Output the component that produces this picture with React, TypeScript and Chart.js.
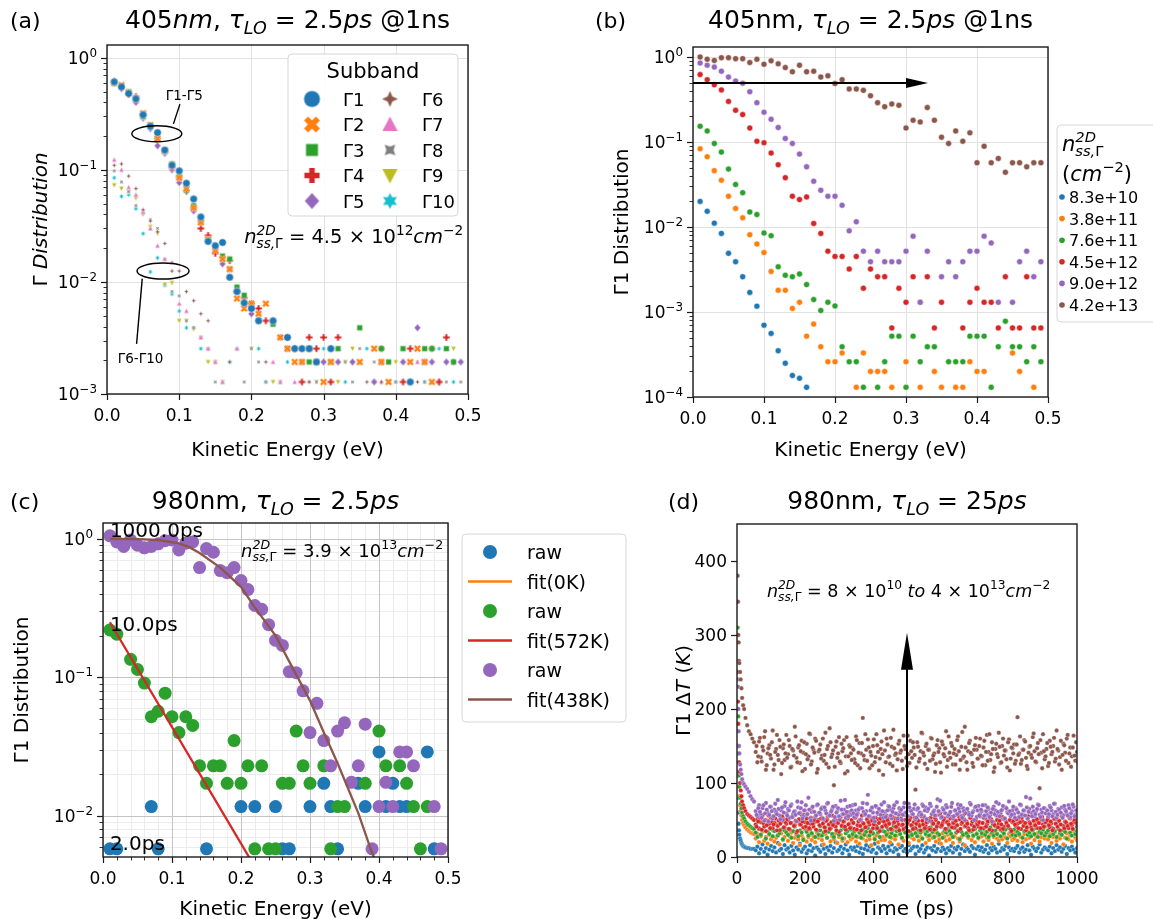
import React, { useEffect, useRef } from "react";
import { Chart, registerables } from "chart.js";
Chart.register(...registerables);

const PAGE_W = 1153;
const PAGE_H = 919;
const FF = '"DejaVu Sans", "Liberation Sans", sans-serif';
const TICK = 17;

const TAB = {
  blue: "#1f77b4", orange: "#ff7f0e", green: "#2ca02c", red: "#d62728", purple: "#9467bd",
  brown: "#8c564b", pink: "#e377c2", gray: "#7f7f7f", olive: "#bcbd22", cyan: "#17becf",
};

// ---------- shared energy grid (eV) ----------
const ENERGY = [0.01, 0.02, 0.03, 0.04, 0.05, 0.06, 0.07, 0.08, 0.09, 0.10,
  0.11, 0.12, 0.13, 0.14, 0.15, 0.16, 0.17, 0.18, 0.19, 0.20,
  0.21, 0.22, 0.23, 0.24, 0.25, 0.26, 0.27, 0.28, 0.29, 0.30,
  0.31, 0.32, 0.33, 0.34, 0.35, 0.36, 0.37, 0.38, 0.39, 0.40,
  0.41, 0.42, 0.43, 0.44, 0.45, 0.46, 0.47, 0.48, 0.49];

// ---------- panel (a): subbands ----------
const SUBBAND_LABELS = ["Γ1", "Γ2", "Γ3", "Γ4", "Γ5", "Γ6", "Γ7", "Γ8", "Γ9", "Γ10"];
const G1 = [0.61, 0.55, 0.48, 0.43, 0.31, 0.245, 0.215, 0.15, 0.11, 0.098,
  0.076, 0.055, 0.038, 0.023, 0.021, 0.0225, 0.011, 0.0082, 0.0065, 0.0058,
  0.0045, null, 0.0045, null, 0.0032, 0.00254, 0.00254, 0.00254, 0.00193, null,
  0.00254, null, null, null, null, null, null, null, null, null,
  null, 0.00128, null, null, null, null, null, null, null];
const G2 = [0.60, 0.57, 0.49, 0.43, 0.32, 0.25, 0.19, 0.15, 0.11, 0.085,
  0.068, 0.046, 0.034, 0.024, 0.019, 0.016, 0.013, 0.0071, 0.0058, 0.0064,
  0.0052, 0.0064, null, 0.0032, 0.00254, 0.00193, 0.00193, 0.00254, 0.00193, 0.00128,
  0.00193, null, null, null, 0.00193, null, 0.00254, 0.00193, 0.00128, null,
  null, 0.00193, 0.00254, 0.00193, 0.00128, null, null, null, null];
const G3 = [0.59, 0.56, 0.50, 0.44, 0.30, 0.25, 0.20, 0.146, 0.113, 0.088,
  0.066, 0.048, 0.035, 0.024, 0.021, 0.017, 0.016, 0.009, 0.0076, 0.0058,
  0.0045, null, 0.0042, null, 0.00254, null, null, 0.00193, null, null,
  0.00193, 0.00254, null, null, 0.0039, null, null, 0.00254, 0.00193, null,
  0.00254, null, null, 0.00254, 0.00254, null, 0.00254, 0.00193, null];
const G4 = [0.60, 0.54, 0.47, 0.45, 0.31, 0.245, 0.19, 0.145, 0.105, 0.086,
  0.065, 0.046, 0.030, 0.026, 0.018, 0.0165, 0.0155, 0.0082, 0.0072, 0.0064,
  0.0058, 0.0045, null, null, 0.0032, 0.00254, 0.00128, 0.0032, 0.00254, 0.0032,
  0.00128, 0.0032, null, null, null, null, null, 0.00254, null, null,
  0.00128, 0.00254, null, null, 0.00254, 0.00128, 0.0032, null, null];
const G5 = [0.62, 0.53, 0.47, 0.40, 0.29, 0.233, 0.164, 0.14, 0.10, 0.077,
  0.064, 0.043, 0.034, 0.024, 0.019, 0.0145, 0.013, 0.0082, 0.0065, 0.0052,
  0.0045, null, 0.0045, 0.0032, 0.00254, 0.00254, 0.00193, 0.00254, null, 0.00193,
  0.00254, 0.00193, null, 0.00193, null, null, 0.00128, 0.00193, null, null,
  0.00193, null, 0.0039, 0.00193, 0.00193, 0.00128, 0.00193, 0.00193, 0.00193];
const G6 = [0.11, 0.113, 0.088, 0.068, 0.044, 0.035, 0.028, 0.022, 0.0125, 0.0125,
  0.0082, 0.0068, 0.0052, 0.0045, null, null, 0.00193, null, null, null,
  null, 0.00193, null, null, null, 0.00254, null, 0.00128, null, 0.00193,
  null, null, null, null, null, 0.00128, null, 0.00128, null, null,
  null, null, 0.00128, null, null, null, null, null, null];
const G7 = [0.123, 0.10, 0.07, 0.06, 0.042, 0.030, 0.021, 0.016, 0.015, 0.0064,
  0.0055, null, 0.0032, 0.00254, 0.00193, 0.00128, null, 0.00254, null, null,
  null, null, 0.00193, 0.00128, null, 0.00128, null, null, null, null,
  null, 0.00254, null, null, 0.00193, null, null, 0.00128, null, null,
  null, null, 0.00193, null, null, null, null, null, null];
const G8 = [0.098, 0.078, 0.064, 0.048, 0.042, 0.036, 0.030, 0.016, 0.0082, 0.0075,
  0.0045, 0.0039, 0.0032, 0.00254, 0.00128, 0.00128, null, null, 0.00128, 0.00254,
  0.00193, 0.00128, null, 0.00128, null, 0.00254, null, 0.00128, 0.00128, null,
  0.00193, 0.00254, 0.00193, 0.00128, 0.00254, null, 0.00193, null, 0.00193, 0.00128,
  0.00254, null, 0.00193, 0.00128, 0.00254, 0.00128, 0.00128, null, 0.00128];
const G9 = [0.073, 0.068, 0.064, 0.056, 0.040, 0.031, 0.027, 0.0095, 0.0098, 0.0045,
  0.0045, 0.0038, 0.0032, 0.00193, 0.00193, 0.00128, null, null, null, 0.00254,
  null, null, 0.00128, 0.00128, null, null, 0.00193, null, 0.00128, null,
  null, 0.00128, 0.00193, 0.00254, null, null, 0.00128, null, 0.00193, 0.00193,
  0.00128, null, null, 0.00193, null, null, null, 0.00254, null];
const G10 = [0.085, 0.058, 0.060, 0.045, 0.027, 0.0123, 0.0164, 0.0093, 0.0078, 0.0055,
  0.0039, 0.0039, 0.00254, 0.00254, 0.00193, 0.00128, 0.00193, 0.00254, null, null,
  0.00254, 0.00128, null, null, 0.00193, null, 0.00128, null, null, 0.00254,
  0.00128, null, 0.00128, null, null, 0.00254, null, null, null, 0.00128,
  null, 0.00193, null, 0.00128, null, 0.00254, null, 0.00128, null];
const SUBBAND_SERIES = [G1, G2, G3, G4, G5, G6, G7, G8, G9, G10];
const SUBBAND_COLORS = [TAB.blue, TAB.orange, TAB.green, TAB.red, TAB.purple, TAB.brown, TAB.pink, TAB.gray, TAB.olive, TAB.cyan];
const SUBBAND_SHAPES = ["circle", "X", "square", "P", "diamond", "star4", "triUp", "star4x", "triDown", "star6"];

// ---------- panel (b): densities ----------
const DENSITY_LABELS = ["8.3e+10", "3.8e+11", "7.6e+11", "4.5e+12", "9.0e+12", "4.2e+13"];
const B_BLUE = [0.02, 0.0153, 0.0111, 0.0084, 0.0049, 0.0039, 0.0026, 0.0017, 0.00117, 0.0007,
  0.00056, 0.00035, 0.00025, 0.000179, 0.000166, 0.00013];
const B_ORANGE = [0.083, 0.067, 0.046, 0.0355, 0.023, 0.0165, 0.0128, 0.0081, 0.0063, 0.005,
  0.003, 0.0018, 0.0018, 0.0011, 0.0013, 0.00052, 0.00072, 0.00039, 0.00026, 0.00026,
  0.00033, null, 0.00013, 0.00033, 0.0002, 0.0002, 0.0002, 0.00013, null, 0.00026,
  null, 0.00013, null, 0.0002, 0.00013, null, 0.00013, 0.00013, 0.00026, 0.0002,
  0.0002, null, null, null, 0.00033, 0.0002, null, 0.00013, null];
const B_GREEN = [0.153, 0.135, 0.096, 0.076, 0.048, 0.0316, 0.0253, 0.015, 0.014, 0.0085,
  0.0079, 0.0034, 0.0027, 0.0026, 0.0028, 0.0021, 0.0014, 0.00104, 0.0013, 0.00118,
  0.00039, 0.00026, 0.00026, 0.00013, null, 0.00013, 0.00026, 0.00052, 0.00052, 0.00013,
  0.00052, 0.00026, 0.00039, 0.00039, null, 0.00026, 0.00026, 0.00026, 0.00052, 0.00052,
  0.00052, 0.00013, 0.00039, 0.00078, 0.00039, 0.00039, 0.00026, 0.00039, 0.00026];
const B_RED = [0.62, 0.54, 0.47, 0.41, 0.30, 0.236, 0.21, 0.146, 0.102, 0.098,
  0.074, 0.054, 0.038, 0.023, 0.021, 0.0226, 0.011, 0.0084, 0.0052, 0.0045,
  0.0045, 0.0032, 0.0045, 0.0019, 0.0032, 0.0026, 0.0026, 0.00065, 0.0019, 0.0013,
  0.0026, 0.0013, 0.0026, 0.00065, 0.0013, null, null, 0.00065, 0.0013, 0.0019,
  0.0013, 0.0013, 0.00065, 0.0026, 0.00065, 0.00065, 0.0026, 0.00065, 0.00065];
const B_PURPLE = [0.85, 0.80, 0.76, 0.68, 0.58, 0.52, 0.49, 0.39, 0.29, 0.224,
  0.185, 0.148, 0.11, 0.096, 0.072, 0.051, 0.0345, 0.027, 0.023, 0.023,
  0.018, 0.009, 0.0115, 0.0052, 0.0039, 0.0052, 0.0039, 0.0039, 0.0039, 0.0052,
  0.0078, 0.0013, 0.0052, null, 0.0026, 0.0039, 0.0026, 0.0039, 0.0052, 0.0052,
  0.0078, 0.0065, 0.0013, null, 0.0013, 0.0039, 0.0052, 0.0026, 0.0039];
const B_BROWN = [1.0, 0.94, 0.91, 0.98, 0.98, 0.955, 0.955, 0.86, 0.94, 0.82,
  0.9, 0.83, 0.75, 0.67, 0.8, 0.67, 0.68, 0.58, 0.6, 0.486,
  0.54, 0.42, 0.42, 0.405, 0.35, 0.29, 0.26, 0.28, 0.27, 0.146,
  0.18, 0.172, 0.254, 0.18, 0.114, 0.096, 0.135, 0.102, 0.128, 0.057,
  0.089, 0.057, 0.064, 0.044, 0.057, 0.057, 0.051, 0.057, 0.057];
const DENSITY_SERIES = [B_BLUE, B_ORANGE, B_GREEN, B_RED, B_PURPLE, B_BROWN];
const SIX_COLORS = [TAB.blue, TAB.orange, TAB.green, TAB.red, TAB.purple, TAB.brown];

// ---------- panel (c): 980nm raw + fits ----------
const C_RAW_2PS = [0.0058, 0.0058, null, null, null, null, 0.0117, 0.0058, null, null,
  null, null, null, null, 0.0058, null, null, null, null, 0.0117,
  null, 0.0117, null, null, 0.0117, 0.0058, 0.0058, null, null, 0.0117,
  null, 0.0172, 0.0117, 0.0058, null, null, 0.0172, 0.0117, null, 0.029,
  0.0117, 0.0172, 0.0117, 0.0117, null, null, 0.029, 0.0058, null];
const C_RAW_10PS = [0.22, 0.205, null, 0.135, 0.114, 0.091, 0.052, 0.057, 0.077, 0.052,
  0.040, 0.052, 0.045, 0.023, 0.0172, 0.023, 0.023, 0.0172, 0.035, 0.0172,
  0.023, 0.0058, 0.023, 0.0058, 0.0058, 0.0172, 0.0172, 0.041, 0.023, 0.0172,
  null, 0.023, 0.0058, 0.0117, 0.0117, null, null, 0.0172, null, 0.041,
  0.023, null, 0.023, 0.0172, 0.0117, 0.0058, 0.0117, null, null];
const C_RAW_1000PS = [1.05, 0.95, 0.88, 0.98, 0.90, 0.86, 0.88, 0.92, 0.97, 0.98,
  0.83, 0.93, 0.95, 0.62, 0.85, 0.80, 0.59, 0.57, 0.62, 0.50,
  0.43, 0.33, 0.31, 0.24, 0.185, 0.17, 0.11, 0.108, 0.08, 0.04,
  0.065, 0.035, 0.023, 0.041, 0.047, 0.0175, 0.023, 0.046, 0.0058, 0.0117,
  0.0175, 0.0117, 0.029, 0.029, 0.023, null, null, 0.0117, 0.0058];
const FIT_572K_E = [0.01, 0.22];
const FIT_572K_V = [0.25, 0.0043];
const FIT_438K_E = [0.01, 0.05, 0.08, 0.11, 0.125, 0.14, 0.17, 0.20, 0.22, 0.25, 0.27, 0.30, 0.32, 0.34, 0.37, 0.39, 0.40];
const FIT_438K_V = [1.0, 0.995, 0.98, 0.925, 0.87, 0.79, 0.62, 0.45, 0.32, 0.2, 0.13, 0.068, 0.04, 0.024, 0.0105, 0.0054, 0.0042];
const FIT_0K_E: number[] = [];
const FIT_0K_V: number[] = [];
const C_TIME_LABELS = ["2.0ps", "10.0ps", "1000.0ps"];
const C_LEGEND = ["raw", "fit(0K)", "raw", "fit(572K)", "raw", "fit(438K)"];

// ---------- panel (d): temperature vs time ----------
const D_TIME_EARLY = [2, 3, 4, 5, 6, 7, 9, 11, 13, 15, 18, 21, 25, 30, 35, 40, 45, 50];
const D_TIME = [...D_TIME_EARLY, ...Array.from({ length: 190 }, (_, i) => 55 + 5 * i)];
const D_TIME_B = Array.from({ length: 190 }, (_, i) => 57.5 + 5 * i);
const D_BROWN = [380, 345, 300, 290, 265, 262, 250, 240, 228, 215, 205, 200, 188, 178, 170, 166, 160, 155,
  142, 128, 156, 135, 149, 162, 118, 140, 151, 133, 171, 125, 146, 138, 158, 112, 147, 131, 165,
  139, 150, 122, 144, 176, 134, 148, 127, 157, 141, 119, 153, 136, 166, 129, 145, 160, 114, 143,
  152, 137, 130, 168, 146, 121, 155, 139, 97, 149, 134, 162, 127, 143, 158, 136, 116, 151, 140,
  147, 132, 163, 124, 154, 140, 188, 131, 145, 159, 120, 137, 150, 128, 166, 142, 133, 156, 111,
  144, 160, 135, 126, 149, 172, 138, 117, 153, 141, 130, 164, 146, 123, 139, 157, 134, 148, 91,
  155, 129, 143, 167, 137, 150, 119, 145, 161, 132, 140, 126, 158, 147, 114, 152, 136, 170, 131,
  141, 154, 125, 146, 138, 163, 118, 149, 134, 176, 128, 143, 157, 139, 122, 151, 145, 133, 160,
  136, 148, 124, 165, 142, 131, 155, 115, 146, 139, 168, 127, 150, 137, 144, 121, 159, 133, 147,
  152, 130, 189, 140, 126, 145, 158, 134, 119, 149, 138, 162, 143, 128, 154, 93, 141, 166, 132,
  146, 123, 157, 139, 150, 129, 171, 144, 135, 118, 153, 141, 160, 127, 148, 136, 164, 130, 142];
const D_BROWN_B = [150, 136, 161, 129, 144, 170, 124, 147, 138, 155, 118, 142, 165, 131, 149, 127, 152, 140, 134,
  158, 121, 146, 137, 163, 128, 151, 143, 116, 155, 139, 132, 167, 125, 148, 141, 157, 119, 145,
  133, 160, 138, 126, 150, 174, 135, 144, 122, 156, 140, 129, 153, 147, 113, 162, 136, 149, 131,
  145, 127, 158, 141, 120, 154, 137, 166, 130, 148, 142, 124, 159, 135, 151, 117, 146, 139, 171,
  128, 152, 136, 161, 123, 147, 140, 132, 157, 144, 119, 150, 134, 164, 127, 143, 155, 138, 121,
  149, 133, 168, 141, 126, 153, 145, 130, 160, 137, 115, 151, 142, 128, 156, 139, 147, 122, 163,
  134, 150, 140, 125, 158, 143, 131, 169, 136, 148, 118, 154, 141, 127, 145, 161, 133, 150, 137,
  124, 157, 142, 130, 166, 139, 146, 121, 153, 135, 149, 128, 160, 144, 132, 155, 117, 148, 140,
  126, 152, 138, 163, 131, 145, 156, 123, 141, 150, 134, 167, 129, 147, 139, 158, 120, 143, 136,
  154, 127, 149, 142, 161, 133, 146, 125, 157, 138, 151, 130, 165, 140, 122, 148, 137, 155, 129];
const D_PURPLE = [240, 230, 200, 170, 150, 140, 125, 118, 112, 105, 100, 98, 95, 92, 88, 82, 78, 75,
  62, 55, 70, 58, 66, 49, 73, 60, 57, 68, 52, 64, 61, 77, 56, 63, 50, 69, 59,
  65, 53, 71, 58, 62, 48, 67, 60, 74, 55, 63, 57, 80, 52, 66, 61, 54, 70, 59,
  58, 67, 51, 63, 72, 56, 60, 65, 49, 69, 62, 55, 76, 58, 64, 53, 68, 61, 57,
  70, 54, 63, 59, 66, 51, 73, 57, 62, 84, 55, 65, 60, 48, 68, 58, 63, 71, 53,
  61, 56, 69, 64, 52, 66, 59, 74, 57, 62, 50, 67, 60, 55, 72, 63, 58, 65, 51,
  64, 57, 60, 71, 54, 67, 62, 49, 69, 58, 63, 56, 78, 61, 53, 66, 60, 70, 55,
  59, 68, 52, 63, 57, 71, 61, 55, 66, 50, 64, 60, 73, 56, 62, 67, 54, 69, 58,
  62, 53, 70, 57, 65, 60, 48, 68, 63, 56, 72, 59, 64, 51, 67, 61, 75, 55, 63,
  58, 66, 61, 54, 70, 57, 63, 81, 52, 65, 60, 68, 55, 62, 71, 57, 64, 50, 66,
  60, 55, 69, 63, 58, 72, 53, 65, 61, 67, 56, 64, 59, 70, 54, 62, 68, 57, 61];
const D_PURPLE_B = [57, 66, 61, 53, 70, 59, 64, 48, 68, 62, 55, 72, 58, 65, 51, 67, 60, 74, 56,
  63, 69, 54, 61, 57, 75, 59, 66, 52, 63, 70, 58, 64, 49, 68, 61, 56, 71, 60,
  65, 52, 67, 59, 73, 56, 62, 68, 54, 60, 66, 50, 64, 58, 77, 61, 55, 69, 63,
  59, 71, 57, 64, 50, 66, 61, 58, 72, 55, 63, 67, 53, 69, 60, 65, 57, 62, 74,
  54, 63, 68, 56, 61, 70, 59, 52, 66, 64, 57, 73, 60, 55, 67, 62, 58, 71, 53,
  66, 60, 57, 69, 63, 51, 65, 72, 58, 61, 56, 68, 62, 76, 54, 64, 59, 67, 57,
  61, 73, 55, 63, 58, 66, 70, 53, 62, 59, 65, 57, 71, 60, 50, 68, 63, 56, 64,
  70, 56, 62, 67, 54, 60, 65, 58, 74, 61, 55, 63, 69, 52, 66, 59, 62, 57, 68,
  53, 64, 60, 71, 57, 63, 56, 67, 61, 79, 55, 62, 58, 65, 70, 54, 60, 66, 59,
  63, 58, 67, 55, 72, 61, 57, 64, 60, 53, 69, 62, 56, 66, 59, 71, 55, 63, 60];
const D_RED = [250, 210, 180, 150, 128, 115, 100, 90, 82, 75, 70, 66, 62, 58, 56, 54, 52, 50,
  44, 51, 38, 47, 56, 41, 35, 49, 45, 53, 39, 46, 58, 42, 36, 48, 52, 40, 45,
  50, 37, 46, 55, 43, 33, 49, 44, 57, 40, 47, 52, 38, 45, 61, 41, 48, 36, 50,
  42, 53, 47, 35, 51, 44, 39, 56, 46, 41, 49, 34, 54, 43, 48, 37, 52, 45, 40,
  47, 38, 55, 43, 50, 36, 46, 59, 41, 48, 44, 53, 39, 47, 42, 51, 35, 49, 56,
  45, 41, 48, 54, 37, 46, 52, 40, 44, 58, 43, 38, 50, 46, 35, 53, 42, 47, 39,
  51, 44, 36, 49, 55, 42, 47, 39, 53, 45, 37, 50, 43, 57, 41, 46, 52, 38, 48,
  43, 54, 46, 40, 49, 35, 51, 45, 56, 42, 48, 39, 53, 44, 37, 50, 46, 41, 55,
  46, 39, 52, 44, 48, 57, 36, 47, 42, 50, 45, 38, 54, 41, 49, 43, 60, 37, 47,
  50, 42, 45, 53, 38, 48, 44, 36, 52, 47, 40, 55, 43, 49, 39, 46, 51, 44, 41,
  47, 53, 40, 46, 38, 51, 44, 49, 36, 55, 42, 48, 45, 39, 52, 43, 47, 50, 41];
const D_RED_B = [41, 48, 53, 37, 46, 50, 43, 56, 39, 47, 44, 52, 36, 49, 45, 55, 40, 47, 51,
  38, 46, 54, 42, 49, 35, 51, 44, 48, 57, 41, 46, 39, 53, 45, 50, 37, 48, 43,
  52, 45, 40, 49, 55, 38, 47, 43, 51, 36, 46, 54, 42, 48, 41, 58, 44, 39, 50,
  46, 53, 37, 48, 42, 56, 45, 40, 51, 47, 34, 49, 44, 53, 39, 46, 52, 41, 48,
  43, 50, 45, 38, 54, 47, 41, 49, 36, 52, 44, 57, 40, 46, 50, 43, 38, 53, 45,
  49, 42, 55, 44, 39, 47, 51, 37, 48, 45, 53, 41, 46, 59, 43, 50, 38, 47, 44,
  52, 40, 46, 49, 43, 55, 38, 47, 51, 42, 45, 36, 53, 48, 41, 50, 44, 47, 39,
  46, 54, 41, 48, 37, 51, 45, 43, 56, 40, 49, 44, 38, 52, 46, 42, 50, 35, 48,
  44, 51, 39, 47, 53, 42, 46, 40, 55, 45, 37, 49, 43, 51, 46, 39, 54, 41, 47,
  50, 43, 48, 36, 52, 45, 41, 49, 44, 57, 39, 47, 42, 53, 45, 38, 50, 46, 43];
const D_GREEN = [310, 250, 190, 140, 110, 95, 80, 72, 66, 60, 55, 52, 48, 45, 43, 41, 39, 38,
  33, 27, 39, 30, 36, 42, 25, 34, 31, 38, 28, 35, 44, 29, 32, 37, 24, 36, 33,
  30, 38, 26, 35, 41, 31, 28, 36, 33, 23, 39, 34, 29, 37, 32, 45, 27, 35, 30,
  36, 29, 33, 40, 26, 34, 38, 31, 27, 42, 33, 30, 36, 25, 39, 32, 35, 28, 37,
  31, 35, 28, 43, 33, 26, 37, 30, 34, 39, 29, 36, 32, 24, 38, 33, 27, 40, 35,
  34, 30, 37, 27, 32, 41, 29, 35, 38, 31, 26, 36, 33, 44, 28, 34, 30, 39, 32,
  28, 36, 33, 25, 38, 31, 35, 29, 40, 34, 27, 37, 32, 30, 42, 26, 35, 33, 38,
  35, 31, 27, 39, 33, 36, 24, 34, 30, 41, 32, 28, 37, 35, 29, 38, 31, 26, 36,
  32, 38, 30, 34, 27, 40, 33, 29, 36, 31, 43, 28, 35, 32, 37, 25, 39, 34, 30,
  37, 29, 34, 31, 38, 26, 35, 42, 30, 33, 28, 36, 31, 39, 27, 34, 32, 37, 29,
  33, 36, 28, 40, 31, 35, 27, 38, 32, 30, 36, 34, 25, 39, 33, 29, 37, 31, 35];
const D_ORANGE = [265, 200, 150, 115, 95, 82, 70, 62, 56, 50, 46, 43, 40, 37, 35, 33, 32, 31,
  25, 31, 20, 28, 34, 22, 27, 18, 30, 24, 36, 21, 26, 29, 17, 32, 23, 27, 35,
  22, 28, 33, 19, 26, 30, 24, 16, 29, 25, 37, 21, 27, 31, 23, 28, 20, 33, 26,
  29, 23, 17, 31, 26, 35, 21, 28, 24, 32, 19, 27, 30, 22, 25, 38, 20, 29, 24,
  26, 33, 21, 27, 18, 30, 25, 34, 22, 28, 24, 16, 31, 26, 29, 20, 35, 23, 27,
  23, 28, 32, 20, 26, 36, 24, 29, 17, 31, 25, 22, 33, 27, 19, 30, 26, 24, 34,
  31, 22, 27, 25, 35, 19, 28, 23, 30, 26, 33, 21, 29, 24, 18, 32, 27, 22, 30,
  24, 30, 19, 28, 33, 25, 21, 27, 31, 16, 29, 26, 34, 23, 28, 20, 32, 25, 27,
  28, 21, 34, 26, 23, 30, 18, 27, 32, 25, 22, 36, 24, 29, 26, 19, 31, 28, 23,
  25, 33, 22, 29, 27, 20, 31, 24, 35, 26, 18, 30, 23, 28, 32, 21, 27, 34, 25,
  29, 24, 31, 19, 27, 33, 22, 28, 25, 30, 17, 26, 32, 24, 29, 21, 35, 26, 23];
const D_BLUE = [115, 80, 60, 45, 36, 30, 25, 22, 19, 17, 15, 14, 13, 12, 12, 11, 11, 11,
  9, 14, 5, 11, 17, 7, 12, 3, 10, 15, 8, 13, 6, 19, 9, 11, 4, 16, 10,
  12, 6, 15, 9, 3, 13, 10, 18, 7, 11, 14, 5, 9, 16, 8, 12, 2, 13, 10,
  7, 16, 11, 4, 13, 9, 15, 6, 12, 20, 8, 10, 14, 5, 11, 17, 9, 3, 13,
  10, 13, 8, 15, 6, 12, 4, 11, 16, 9, 14, 7, 10, 18, 5, 13, 11, 8, 15,
  11, 5, 14, 9, 17, 7, 12, 10, 3, 13, 15, 8, 11, 6, 16, 9, 12, 14, 4,
  14, 8, 11, 16, 6, 10, 13, 2, 12, 9, 15, 7, 11, 19, 8, 13, 10, 5, 12,
  9, 15, 6, 12, 10, 14, 4, 11, 17, 8, 13, 10, 7, 15, 12, 3, 11, 14, 9,
  13, 7, 10, 16, 5, 12, 9, 14, 11, 6, 18, 8, 12, 10, 15, 4, 13, 9, 11,
  8, 12, 15, 6, 11, 13, 7, 10, 16, 9, 3, 14, 11, 8, 12, 17, 6, 10, 13,
  11, 9, 14, 5, 12, 8, 16, 10, 13, 7, 11, 15, 4, 12, 9, 14, 10, 6, 12];
const D_SERIES = [D_BLUE, D_ORANGE, D_GREEN, D_RED, D_PURPLE, D_BROWN];
const D_SERIES_B: (number[] | null)[] = [null, null, null, D_RED_B, D_PURPLE_B, D_BROWN_B];

// ---------- axis ticks ----------
const E_TICKS = [0, 0.1, 0.2, 0.3, 0.4, 0.5];
const E_TICK_LABELS = ["0.0", "0.1", "0.2", "0.3", "0.4", "0.5"];
const A_DECADES = [-3, -2, -1, 0];
const B_DECADES = [-4, -3, -2, -1, 0];
const C_DECADES = [-2, -1, 0];
const C_X_MINOR = [0.02, 0.04, 0.06, 0.08, 0.12, 0.14, 0.16, 0.18, 0.22, 0.24, 0.26, 0.28, 0.32, 0.34, 0.36, 0.38, 0.42, 0.44, 0.46, 0.48];
const T_TICKS = [0, 200, 400, 600, 800, 1000];
const DT_TICKS = [0, 100, 200, 300, 400];

// ---------- text helpers ----------
type Seg = { t: string; it?: boolean; sc?: number; dy?: number; mark?: boolean; back?: boolean };
const SUB = { sc: 0.7, dy: 0.24 };
const SUP = { sc: 0.7, dy: -0.42 };

function fontFor(size: number, s: Seg) {
  return `${s.it ? "italic " : ""}${(size * (s.sc ?? 1)).toFixed(2)}px ${FF}`;
}
function layoutRich(ctx: CanvasRenderingContext2D, segs: Seg[], size: number) {
  let cx = 0, mx = 0;
  const pos: number[] = [];
  for (const s of segs) {
    ctx.font = fontFor(size, s);
    const w = ctx.measureText(s.t).width;
    if (s.mark) mx = cx;
    pos.push(s.back ? mx : cx);
    cx = s.back ? Math.max(cx, mx + w) : cx + w;
  }
  return { pos, width: cx };
}
function drawRich(ctx: CanvasRenderingContext2D, segs: Seg[], x: number, y: number, size: number, align = "left", color = "#000") {
  const { pos, width } = layoutRich(ctx, segs, size);
  const x0 = align === "left" ? x : align === "center" ? x - width / 2 : x - width;
  ctx.save();
  ctx.fillStyle = color;
  ctx.textAlign = "left";
  ctx.textBaseline = "alphabetic";
  segs.forEach((s, i) => {
    ctx.font = fontFor(size, s);
    ctx.fillText(s.t, x0 + pos[i], y + (s.dy ?? 0) * size);
  });
  ctx.restore();
  return width;
}
function logLabels(exps: number[]): Seg[][] {
  return exps.map((e) => [{ t: "10" }, { t: e < 0 ? "−" + -e : String(e), ...SUP }]);
}
function logMinors(exps: number[], min: number, max: number) {
  const out: number[] = [];
  for (let e = exps[0] - 1; e <= exps[exps.length - 1]; e++)
    for (let m = 2; m <= 9; m++) {
      const v = m * Math.pow(10, e);
      if (v > min * 1.0001 && v < max * 0.9999) out.push(v);
    }
  return out;
}
function nSeg(rest: Seg[]): Seg[] {
  return [{ t: "n", it: true }, { t: "ss,", it: true, ...SUB, mark: true }, { t: "Γ", ...SUB }, { t: "2D", it: true, ...SUP, back: true }, ...rest];
}
function roundRect(ctx: CanvasRenderingContext2D, x: number, y: number, w: number, h: number, r: number) {
  ctx.beginPath();
  ctx.moveTo(x + r, y);
  ctx.lineTo(x + w - r, y);
  ctx.quadraticCurveTo(x + w, y, x + w, y + r);
  ctx.lineTo(x + w, y + h - r);
  ctx.quadraticCurveTo(x + w, y + h, x + w - r, y + h);
  ctx.lineTo(x + r, y + h);
  ctx.quadraticCurveTo(x, y + h, x, y + h - r);
  ctx.lineTo(x, y + r);
  ctx.quadraticCurveTo(x, y, x + r, y);
  ctx.closePath();
}
function legendBox(ctx: CanvasRenderingContext2D, x: number, y: number, w: number, h: number) {
  ctx.save();
  roundRect(ctx, x, y, w, h, 4);
  ctx.fillStyle = "rgba(255,255,255,0.85)";
  ctx.fill();
  ctx.strokeStyle = "#d6d6d6";
  ctx.lineWidth = 1;
  ctx.stroke();
  ctx.restore();
}

// ---------- markers ----------
function markerCanvas(shape: string, size: number, color: string, edge = 0.6): HTMLCanvasElement {
  const s = Math.ceil(size + 3);
  const c = document.createElement("canvas");
  c.width = s;
  c.height = s;
  const g = c.getContext("2d")!;
  g.translate(s / 2, s / 2);
  const r = size / 2;
  g.beginPath();
  const poly = (pts: number[][]) => {
    pts.forEach(([x, y], i) => (i ? g.lineTo(x, y) : g.moveTo(x, y)));
    g.closePath();
  };
  const star = (n: number, ro: number, ri: number, rot: number) => {
    const p: number[][] = [];
    for (let k = 0; k < 2 * n; k++) {
      const a = rot + (k * Math.PI) / n - Math.PI / 2;
      const rr = k % 2 ? ri : ro;
      p.push([rr * Math.cos(a), rr * Math.sin(a)]);
    }
    poly(p);
  };
  const plus = (ro: number, a: number, rot: number) => {
    const base = [[a, -ro], [a, -a], [ro, -a], [ro, a], [a, a], [a, ro], [-a, ro], [-a, a], [-ro, a], [-ro, -a], [-a, -a], [-a, -ro]];
    const cs = Math.cos(rot), sn = Math.sin(rot);
    poly(base.map(([x, y]) => [x * cs - y * sn, x * sn + y * cs]));
  };
  switch (shape) {
    case "circle": g.arc(0, 0, r, 0, 2 * Math.PI); break;
    case "X": plus(r * 1.05, r * 0.36, Math.PI / 4); break;
    case "square": g.rect(-r * 0.75, -r * 0.75, r * 1.5, r * 1.5); break;
    case "P": plus(r * 0.95, r * 0.34, 0); break;
    case "diamond": poly([[0, -r], [r * 0.9, 0], [0, r], [-r * 0.9, 0]]); break;
    case "star4": star(4, r, r * 0.42, 0); break;
    case "triUp": poly([[0, -r], [r * 0.95, r * 0.8], [-r * 0.95, r * 0.8]]); break;
    case "star4x": star(4, r * 0.95, r * 0.45, Math.PI / 4); break;
    case "triDown": poly([[0, r], [r * 0.95, -r * 0.8], [-r * 0.95, -r * 0.8]]); break;
    case "star6": star(6, r, r * 0.55, 0); break;
  }
  g.fillStyle = color;
  g.fill();
  if (edge > 0) {
    g.lineWidth = edge;
    g.strokeStyle = "#fff";
    g.stroke();
  }
  return c;
}

function pts(xs: number[], ys: (number | null)[]) {
  return xs.map((x, i) => ({ x, y: ys[i] })).filter((p) => p.y !== null && p.y !== undefined);
}

// ---------- panel spec / drawing ----------
type AxisSpec = {
  type: string; min: number; max: number; major: number[]; labels: Seg[][];
  minor?: number[]; gridMajor?: string; gridMinor?: string;
};
type Spec = {
  area: number[]; x: AxisSpec; y: AxisSpec; datasets: any[];
  title: Seg[]; titleY: number; letter: string; letterX: number;
  xTitle: Seg[]; xTitleY: number; yTitle: Seg[]; yTitleX: number;
  decorate?: (ctx: CanvasRenderingContext2D, chart: any) => void;
};

function drawGrid(chart: any, sp: Spec) {
  const ctx = chart.ctx as CanvasRenderingContext2D;
  const xs = chart.scales.x, ys = chart.scales.y;
  const [L, T, R, B] = sp.area;
  ctx.save();
  ctx.lineWidth = 1;
  const vl = (v: number, c: string) => {
    const p = Math.round(xs.getPixelForValue(v)) + 0.5;
    ctx.strokeStyle = c; ctx.beginPath(); ctx.moveTo(p, T); ctx.lineTo(p, B); ctx.stroke();
  };
  const hl = (v: number, c: string) => {
    const p = Math.round(ys.getPixelForValue(v)) + 0.5;
    ctx.strokeStyle = c; ctx.beginPath(); ctx.moveTo(L, p); ctx.lineTo(R, p); ctx.stroke();
  };
  if (sp.x.gridMinor) (sp.x.minor || []).forEach((v) => vl(v, sp.x.gridMinor!));
  if (sp.y.gridMinor) (sp.y.minor || []).forEach((v) => hl(v, sp.y.gridMinor!));
  if (sp.x.gridMajor) sp.x.major.forEach((v) => vl(v, sp.x.gridMajor!));
  if (sp.y.gridMajor) sp.y.major.forEach((v) => hl(v, sp.y.gridMajor!));
  ctx.restore();
}

function drawAxes(chart: any, sp: Spec) {
  const ctx = chart.ctx as CanvasRenderingContext2D;
  const xs = chart.scales.x, ys = chart.scales.y;
  const [L, T, R, B] = sp.area;
  ctx.save();
  ctx.strokeStyle = "#1a1a1a";
  const xt = (v: number, len: number) => {
    const p = Math.round(xs.getPixelForValue(v)) + 0.5;
    ctx.beginPath(); ctx.moveTo(p, B); ctx.lineTo(p, B + len); ctx.stroke();
  };
  const yt = (v: number, len: number) => {
    const p = Math.round(ys.getPixelForValue(v)) + 0.5;
    ctx.beginPath(); ctx.moveTo(L, p); ctx.lineTo(L - len, p); ctx.stroke();
  };
  ctx.lineWidth = 0.9;
  (sp.x.minor || []).forEach((v) => xt(v, 3.5));
  (sp.y.minor || []).forEach((v) => yt(v, 3.5));
  ctx.lineWidth = 1.2;
  sp.x.major.forEach((v) => xt(v, 6));
  sp.y.major.forEach((v) => yt(v, 6));
  ctx.lineWidth = 1.4;
  ctx.strokeRect(L, T, R - L, B - T);
  sp.x.major.forEach((v, i) => drawRich(ctx, sp.x.labels[i], xs.getPixelForValue(v), B + 27, TICK, "center"));
  sp.y.major.forEach((v, i) => drawRich(ctx, sp.y.labels[i], L - 10, ys.getPixelForValue(v) + 6, TICK, "right"));
  drawRich(ctx, sp.title, (L + R) / 2, sp.titleY, 25, "center");
  drawRich(ctx, [{ t: sp.letter }], sp.letterX, sp.titleY, 22, "left");
  drawRich(ctx, sp.xTitle, (L + R) / 2, sp.xTitleY, 20, "center");
  ctx.save();
  ctx.translate(sp.yTitleX, (T + B) / 2);
  ctx.rotate(-Math.PI / 2);
  drawRich(ctx, sp.yTitle, 0, 0, 20, "center");
  ctx.restore();
  ctx.restore();
}

function buildChart(canvas: HTMLCanvasElement, sp: Spec) {
  const [L, T, R, B] = sp.area;
  const deco = {
    id: "deco",
    beforeDatasetsDraw(chart: any) { drawGrid(chart, sp); },
    afterDraw(chart: any) {
      drawAxes(chart, sp);
      if (sp.decorate) sp.decorate(chart.ctx, chart);
    },
  };
  const axis = (a: AxisSpec, isX: boolean) => ({
    type: a.type, min: a.min, max: a.max, display: true,
    ticks: { display: false }, grid: { display: false }, border: { display: false },
    afterFit: (s: any) => {
      if (isX) { s.height = 0; s.paddingLeft = 0; s.paddingRight = 0; }
      else { s.width = 0; s.paddingTop = 0; s.paddingBottom = 0; }
    },
  });
  return new Chart(canvas, {
    type: "scatter",
    data: { datasets: sp.datasets },
    options: {
      responsive: false, animation: false, devicePixelRatio: 1, events: [],
      layout: { padding: { left: L, top: T, right: PAGE_W - R, bottom: PAGE_H - B } },
      plugins: { legend: { display: false }, tooltip: { enabled: false }, title: { display: false } },
      scales: { x: axis(sp.x, true), y: axis(sp.y, false) },
    } as any,
    plugins: [deco],
  } as any);
}

const E_LABEL_SEGS = E_TICK_LABELS.map((t) => [{ t }]);
const ENERGY_TITLE: Seg[] = [{ t: "Kinetic Energy (eV)" }];

function specA(): Spec {
  const small = SUBBAND_SHAPES.map((sh, i) => markerCanvas(sh, i < 5 ? 7.5 : 5.5, SUBBAND_COLORS[i], 0.5));
  const big = SUBBAND_SHAPES.map((sh, i) => markerCanvas(sh, 16, SUBBAND_COLORS[i], 0));
  const yMin = 1e-3, yMax = 1.3;
  return {
    area: [107, 45, 468, 394],
    x: { type: "linear", min: 0, max: 0.5, major: E_TICKS, labels: E_LABEL_SEGS, gridMajor: "#e2e2e2" },
    y: { type: "logarithmic", min: yMin, max: yMax, major: A_DECADES.map((e) => Math.pow(10, e)), labels: logLabels(A_DECADES), minor: logMinors(A_DECADES, yMin, yMax), gridMajor: "#e2e2e2" },
    datasets: SUBBAND_SERIES.map((vals, i) => ({
      label: SUBBAND_LABELS[i], data: pts(ENERGY, vals), pointStyle: small[i], pointRadius: 4, order: i,
    })),
    title: [{ t: "405" }, { t: "nm", it: true }, { t: ", " }, { t: "τ", it: true }, { t: "LO", it: true, ...SUB }, { t: " = 2.5" }, { t: "ps", it: true }, { t: " @1ns" }],
    titleY: 28, letter: "(a)", letterX: 10,
    xTitle: ENERGY_TITLE, xTitleY: 456,
    yTitle: [{ t: "Γ " }, { t: "Distribution", it: true }], yTitleX: 47,
    decorate: (ctx, chart) => {
      const xs = chart.scales.x, ys = chart.scales.y;
      const X = (v: number) => xs.getPixelForValue(v), Y = (v: number) => ys.getPixelForValue(v);
      ctx.save();
      ctx.strokeStyle = "#000";
      ctx.lineWidth = 1.4;
      ctx.beginPath(); ctx.ellipse(X(0.069), Y(0.21), 25, 8, 0, 0, Math.PI * 2); ctx.stroke();
      ctx.beginPath(); ctx.ellipse(X(0.0776), Y(0.0125), 26, 8, 0, 0, Math.PI * 2); ctx.stroke();
      ctx.beginPath(); ctx.moveTo(X(0.092), Y(0.257)); ctx.lineTo(X(0.101), Y(0.386)); ctx.stroke();
      ctx.beginPath(); ctx.moveTo(X(0.0488), Y(0.0107)); ctx.lineTo(X(0.041), Y(0.0028)); ctx.stroke();
      ctx.restore();
      drawRich(ctx, [{ t: "Γ1-Γ5" }], X(0.107), Y(0.47) + 5, 13.5, "center");
      drawRich(ctx, [{ t: "Γ6-Γ10" }], X(0.0464), Y(0.0021) + 5, 13.5, "center");
      drawRich(ctx, nSeg([{ t: " = 4.5 × 10" }, { t: "12", ...SUP }, { t: "cm", it: true }, { t: "−2", ...SUP }]), X(0.19), Y(0.0223), 19.5, "left");
      legendBox(ctx, 288, 54, 170, 162);
      drawRich(ctx, [{ t: "Subband" }], 373, 78, 21, "center");
      SUBBAND_LABELS.forEach((lab, i) => {
        const col = i < 5 ? 0 : 1, row = i % 5;
        const cy = 99 + row * 25.5;
        const mx = col ? 390 : 312, tx = col ? 422 : 343;
        const img = big[i];
        ctx.drawImage(img, mx - img.width / 2, cy - img.height / 2);
        drawRich(ctx, [{ t: lab }], tx, cy + 6.5, 18, "left");
      });
    },
  };
}

function specB(): Spec {
  const yMin = 1e-4, yMax = 1.31;
  return {
    area: [693, 47, 1048, 397],
    x: { type: "linear", min: 0, max: 0.5, major: E_TICKS, labels: E_LABEL_SEGS, gridMajor: "#e2e2e2" },
    y: { type: "logarithmic", min: yMin, max: yMax, major: B_DECADES.map((e) => Math.pow(10, e)), labels: logLabels(B_DECADES), minor: logMinors(B_DECADES, yMin, yMax), gridMajor: "#e2e2e2" },
    datasets: DENSITY_SERIES.map((vals, i) => ({
      label: DENSITY_LABELS[i], data: pts(ENERGY, vals), pointStyle: "circle", pointRadius: 3,
      backgroundColor: SIX_COLORS[i], borderColor: "#ffffff", borderWidth: 0.5, order: 6 - i,
    })),
    title: [{ t: "405nm, " }, { t: "τ", it: true }, { t: "LO", it: true, ...SUB }, { t: " = 2.5" }, { t: "ps", it: true }, { t: " @1ns" }],
    titleY: 28, letter: "(b)", letterX: 595,
    xTitle: ENERGY_TITLE, xTitleY: 456,
    yTitle: [{ t: "Γ1 Distribution" }], yTitleX: 628,
    decorate: (ctx, chart) => {
      const xs = chart.scales.x, ys = chart.scales.y;
      const y = ys.getPixelForValue(0.494);
      const x0 = xs.getPixelForValue(0), x1 = xs.getPixelForValue(0.331);
      ctx.save();
      ctx.strokeStyle = "#000"; ctx.fillStyle = "#000"; ctx.lineWidth = 2;
      ctx.beginPath(); ctx.moveTo(x0, y); ctx.lineTo(x1 - 18, y); ctx.stroke();
      ctx.beginPath(); ctx.moveTo(x1, y); ctx.lineTo(x1 - 22, y - 5); ctx.lineTo(x1 - 22, y + 5); ctx.closePath(); ctx.fill();
      ctx.restore();
      legendBox(ctx, 1057, 125, 110, 197);
      drawRich(ctx, nSeg([]), 1062, 151, 21, "left");
      drawRich(ctx, [{ t: "(" }, { t: "cm", it: true }, { t: "−2", ...SUP }, { t: ")" }], 1062, 181, 21, "left");
      DENSITY_LABELS.forEach((lab, i) => {
        const cy = 197 + i * 21.6;
        ctx.save();
        ctx.fillStyle = SIX_COLORS[i];
        ctx.beginPath(); ctx.arc(1062, cy, 2.8, 0, Math.PI * 2); ctx.fill();
        ctx.restore();
        drawRich(ctx, [{ t: lab }], 1069, cy + 6, 16, "left");
      });
    },
  };
}

function specC(): Spec {
  const yMin = 0.00506, yMax = 1.3;
  const raw = (vals: (number | null)[], color: string, order: number) => ({
    data: pts(ENERGY, vals), pointStyle: "circle", pointRadius: 6.5, backgroundColor: color, borderWidth: 0, order,
  });
  const fit = (e: number[], v: number[], color: string, order: number) => ({
    data: pts(e, v), showLine: true, pointRadius: 0, borderColor: color, borderWidth: 2.3, fill: false, order,
  });
  return {
    area: [103, 523, 448, 857],
    x: { type: "linear", min: 0, max: 0.5, major: E_TICKS, labels: E_LABEL_SEGS, minor: C_X_MINOR, gridMajor: "#c4c4c4", gridMinor: "#ececec" },
    y: { type: "logarithmic", min: yMin, max: yMax, major: C_DECADES.map((e) => Math.pow(10, e)), labels: logLabels(C_DECADES), minor: logMinors(C_DECADES, yMin, yMax), gridMajor: "#c4c4c4", gridMinor: "#ececec" },
    datasets: [
      raw(C_RAW_2PS, TAB.blue, 6),
      fit(FIT_0K_E, FIT_0K_V, TAB.orange, 5),
      raw(C_RAW_10PS, TAB.green, 4),
      fit(FIT_572K_E, FIT_572K_V, TAB.red, 3),
      raw(C_RAW_1000PS, TAB.purple, 2),
      fit(FIT_438K_E, FIT_438K_V, TAB.brown, 1),
    ],
    title: [{ t: "980nm, " }, { t: "τ", it: true }, { t: "LO", it: true, ...SUB }, { t: " = 2.5" }, { t: "ps", it: true }],
    titleY: 509, letter: "(c)", letterX: 10,
    xTitle: ENERGY_TITLE, xTitleY: 915,
    yTitle: [{ t: "Γ1 Distribution" }], yTitleX: 28,
    decorate: (ctx, chart) => {
      const xs = chart.scales.x, ys = chart.scales.y;
      const firsts = [C_RAW_2PS, C_RAW_10PS, C_RAW_1000PS];
      firsts.forEach((arr, i) => {
        drawRich(ctx, [{ t: C_TIME_LABELS[i] }], xs.getPixelForValue(ENERGY[0]), ys.getPixelForValue(arr[0] as number) + 1, 20, "left");
      });
      drawRich(ctx, nSeg([{ t: " = 3.9 × 10" }, { t: "13", ...SUP }, { t: "cm", it: true }, { t: "−2", ...SUP }]), xs.getPixelForValue(0.2), ys.getPixelForValue(0.74), 18, "left");
      legendBox(ctx, 462, 534, 164, 188);
      const colors = [TAB.blue, TAB.orange, TAB.green, TAB.red, TAB.purple, TAB.brown];
      C_LEGEND.forEach((lab, i) => {
        const cy = 552 + i * 29.5;
        ctx.save();
        if (i % 2 === 0) {
          ctx.fillStyle = colors[i];
          ctx.beginPath(); ctx.arc(490, cy, 7, 0, Math.PI * 2); ctx.fill();
        } else {
          ctx.strokeStyle = colors[i]; ctx.lineWidth = 2.3;
          ctx.beginPath(); ctx.moveTo(468, cy); ctx.lineTo(512, cy); ctx.stroke();
        }
        ctx.restore();
        drawRich(ctx, [{ t: lab }], 527, cy + 7, 19, "left");
      });
    },
  };
}

function specD(): Spec {
  const sets: any[] = [];
  D_SERIES.forEach((vals, i) => {
    sets.push({
      data: pts(D_TIME, vals), pointStyle: "circle", pointRadius: 2.2,
      backgroundColor: SIX_COLORS[i], borderColor: "#ffffff", borderWidth: 0.3, order: 20 - 2 * i,
    });
    const extra = D_SERIES_B[i];
    if (extra) {
      sets.push({
        data: pts(D_TIME_B, extra), pointStyle: "circle", pointRadius: 2.2,
        backgroundColor: SIX_COLORS[i], borderColor: "#ffffff", borderWidth: 0.3, order: 19 - 2 * i,
      });
    }
  });
  return {
    area: [737, 524, 1077, 857],
    x: { type: "linear", min: 0, max: 1000, major: T_TICKS, labels: T_TICKS.map((v) => [{ t: String(v) }]) },
    y: { type: "linear", min: 0, max: 450, major: DT_TICKS, labels: DT_TICKS.map((v) => [{ t: String(v) }]) },
    datasets: sets,
    title: [{ t: "980nm, " }, { t: "τ", it: true }, { t: "LO", it: true, ...SUB }, { t: " = 25" }, { t: "ps", it: true }],
    titleY: 509, letter: "(d)", letterX: 668,
    xTitle: [{ t: "Time (ps)" }], xTitleY: 915,
    yTitle: [{ t: "Γ1 Δ" }, { t: "T", it: true }, { t: " (" }, { t: "K", it: true }, { t: ")" }], yTitleX: 690,
    decorate: (ctx, chart) => {
      const xs = chart.scales.x, ys = chart.scales.y;
      const x = xs.getPixelForValue(500), y0 = ys.getPixelForValue(0), y1 = ys.getPixelForValue(303);
      ctx.save();
      ctx.strokeStyle = "#000"; ctx.fillStyle = "#000"; ctx.lineWidth = 2;
      ctx.beginPath(); ctx.moveTo(x, y0); ctx.lineTo(x, y1 + 30); ctx.stroke();
      ctx.beginPath(); ctx.moveTo(x, y1); ctx.lineTo(x - 6, y1 + 37); ctx.lineTo(x + 6, y1 + 37); ctx.closePath(); ctx.fill();
      ctx.restore();
      drawRich(ctx, nSeg([{ t: " = 8 × 10" }, { t: "10", ...SUP }, { t: " to ", it: true }, { t: "4 × 10" }, { t: "13", ...SUP }, { t: "cm", it: true }, { t: "−2", ...SUP }]), xs.getPixelForValue(88), ys.getPixelForValue(352), 17.5, "left");
    },
  };
}

export default function App() {
  const r0 = useRef<HTMLCanvasElement>(null);
  const r1 = useRef<HTMLCanvasElement>(null);
  const r2 = useRef<HTMLCanvasElement>(null);
  const r3 = useRef<HTMLCanvasElement>(null);
  const refs = [r0, r1, r2, r3];
  useEffect(() => {
    const specs = [specA(), specB(), specC(), specD()];
    const charts = specs.map((sp, i) => buildChart(refs[i].current!, sp));
    return () => charts.forEach((c) => c.destroy());
  }, []);
  return (
    <div style={{ position: "absolute", left: 0, top: 0, width: PAGE_W, height: PAGE_H, background: "#fff", overflow: "hidden" }}>
      {refs.map((r, i) => (
        <canvas key={i} ref={r} width={PAGE_W} height={PAGE_H}
          style={{ position: "absolute", left: 0, top: 0, width: PAGE_W, height: PAGE_H }} />
      ))}
    </div>
  );
}
